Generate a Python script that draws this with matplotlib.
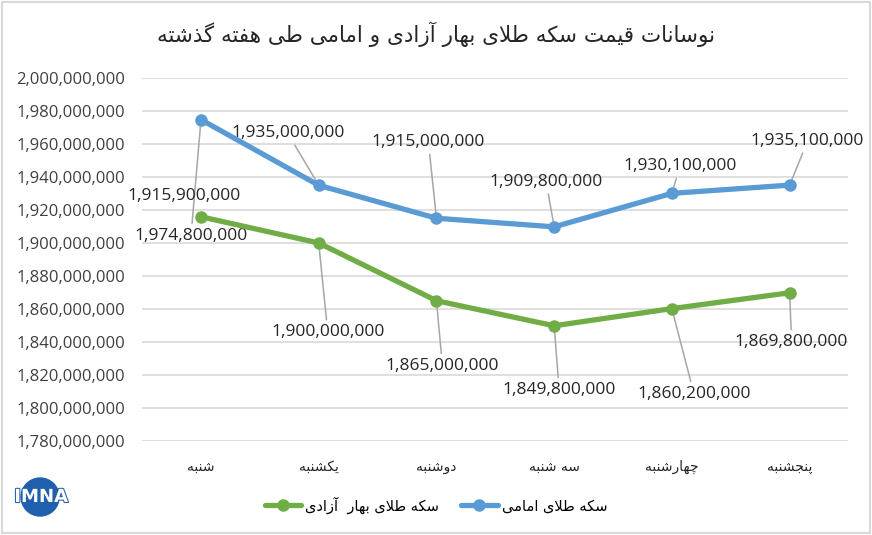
import numpy as np
import matplotlib
matplotlib.use("Agg")
import matplotlib.pyplot as plt
from matplotlib.patches import Rectangle, Ellipse
from matplotlib.ticker import FuncFormatter, MultipleLocator
import matplotlib.patheffects as pe

# --- data ---
days = ["شنبه", "یکشنبه", "دوشنبه", "سه شنبه", "چهارشنبه", "پنجشنبه"]
emami = [1974800000, 1935000000, 1915000000, 1909800000, 1930100000, 1935100000]
bahar = [1915900000, 1900000000, 1865000000, 1849800000, 1860200000, 1869800000]
title = "نوسانات قیمت سکه طلای بهار آزادی و امامی طی هفته گذشته"
label_emami = "سکه طلای امامی"
label_bahar = "سکه طلای بهار  آزادی"

# label offsets in pixels (dx, dy up) and whether a leader line is drawn
emami_off = [(-10, -116), (-31, 52), (-8, 76), (-8, 45), (8, 27), (18, 44)]
emami_lead = [True, True, True, True, True, True]
bahar_off = [(-17, 21), (9, -89), (6, -65), (5, -64), (22, -85), (2, -49)]
bahar_lead = [False, True, True, True, True, True]

# --- minimal arabic/persian shaping (matplotlib has no shaper) ---
FORMS = {
    "ا": ("\uFE8D", "\uFE8E", None, None),
    "آ": ("\uFE81", "\uFE82", None, None),
    "ب": ("\uFE8F", "\uFE90", "\uFE91", "\uFE92"),
    "پ": ("\uFB56", "\uFB57", "\uFB58", "\uFB59"),
    "ت": ("\uFE95", "\uFE96", "\uFE97", "\uFE98"),
    "ج": ("\uFE9D", "\uFE9E", "\uFE9F", "\uFEA0"),
    "چ": ("\uFB7A", "\uFB7B", "\uFB7C", "\uFB7D"),
    "د": ("\uFEA9", "\uFEAA", None, None),
    "ذ": ("\uFEAB", "\uFEAC", None, None),
    "ر": ("\uFEAD", "\uFEAE", None, None),
    "ز": ("\uFEAF", "\uFEB0", None, None),
    "س": ("\uFEB1", "\uFEB2", "\uFEB3", "\uFEB4"),
    "ش": ("\uFEB5", "\uFEB6", "\uFEB7", "\uFEB8"),
    "ط": ("\uFEC1", "\uFEC2", "\uFEC3", "\uFEC4"),
    "ف": ("\uFED1", "\uFED2", "\uFED3", "\uFED4"),
    "ق": ("\uFED5", "\uFED6", "\uFED7", "\uFED8"),
    "ک": ("\uFB8E", "\uFB8F", "\uFB90", "\uFB91"),
    "گ": ("\uFB92", "\uFB93", "\uFB94", "\uFB95"),
    "ل": ("\uFEDD", "\uFEDE", "\uFEDF", "\uFEE0"),
    "م": ("\uFEE1", "\uFEE2", "\uFEE3", "\uFEE4"),
    "ن": ("\uFEE5", "\uFEE6", "\uFEE7", "\uFEE8"),
    "و": ("\uFEED", "\uFEEE", None, None),
    "ه": ("\uFEE9", "\uFEEA", "\uFEEB", "\uFEEC"),
    "ی": ("\uFBFC", "\uFBFD", "\uFBFE", "\uFBFF"),
}
LAM_ALEF = {"ا": ("\uFEFB", "\uFEFC"), "آ": ("\uFEF5", "\uFEF6")}


def fa(text):
    out = []
    i = 0
    n = len(text)
    while i < n:
        c = text[i]
        if c not in FORMS:
            out.append(c)
            i += 1
            continue
        prev = text[i - 1] if i > 0 else ""
        prev_joins = prev in FORMS and FORMS[prev][2] is not None
        nxt = text[i + 1] if i + 1 < n else ""
        if c == "ل" and nxt in LAM_ALEF:
            out.append(LAM_ALEF[nxt][1 if prev_joins else 0])
            i += 2
            continue
        next_joins = FORMS[c][2] is not None and nxt in FORMS
        if prev_joins and next_joins:
            out.append(FORMS[c][3])
        elif prev_joins:
            out.append(FORMS[c][1])
        elif next_joins:
            out.append(FORMS[c][2])
        else:
            out.append(FORMS[c][0])
        i += 1
    return "".join(out)[::-1]


BLUE = "#5B9BD5"
GREEN = "#70AD47"
FA_FONT = ["DejaVu Sans"]
NUM_FONT = ["Open Sans", "DejaVu Sans"]

fig = plt.figure(figsize=(8.72, 5.35), dpi=100)
ax = fig.add_axes([0.163, 0.176, 0.81, 0.678])

x = np.arange(len(days))
l_em, = ax.plot(x, emami, color=BLUE, lw=3.8, marker="o", ms=8,
                solid_capstyle="round", zorder=3)
l_ba, = ax.plot(x, bahar, color=GREEN, lw=3.8, marker="o", ms=8,
                solid_capstyle="round", zorder=3)


def add_labels(vals, offs, leads):
    for xi, v, (dx, dy), lead in zip(x, vals, offs, leads):
        ap = None
        if lead:
            ap = dict(arrowstyle="-", color="#A6A6A6", lw=1.1,
                      shrinkA=1, shrinkB=0)
        ax.annotate(f"{v:,.0f}", (xi, v), xytext=(dx, dy),
                    textcoords="offset pixels", ha="center", va="center",
                    fontsize=12.5, family=NUM_FONT, color="#262626",
                    arrowprops=ap, zorder=2)


add_labels(emami, emami_off, emami_lead)
add_labels(bahar, bahar_off, bahar_lead)

ax.set_xlim(-0.5, len(days) - 0.5)
ax.set_ylim(1780000000, 2000000000)
ax.yaxis.set_major_locator(MultipleLocator(20000000))
ax.yaxis.set_major_formatter(FuncFormatter(lambda v, p: f"{v:,.0f}"))
ax.yaxis.grid(True, color="#D9D9D9", lw=1.2)
ax.set_axisbelow(True)
for s in ax.spines.values():
    s.set_visible(False)
ax.tick_params(length=0)
ax.tick_params(axis="y", pad=12, labelsize=12, labelcolor="#404040")
for t in ax.get_yticklabels():
    t.set_family(NUM_FONT)
ax.set_xticks(x)
ax.set_xticklabels([fa(d) for d in days], family=FA_FONT, fontsize=10,
                   color="#262626")
ax.tick_params(axis="x", pad=14)

fig.text(0.5, 0.935, fa(title), ha="center", va="center", fontsize=15.5,
         family=FA_FONT, color="#262626")

leg = fig.legend([l_ba, l_em], [fa(label_bahar), fa(label_emami)], ncol=2,
                 loc="center", bbox_to_anchor=(0.5, 0.056), frameon=False,
                 prop=dict(family=FA_FONT, size=10.5), handlelength=2.5,
                 columnspacing=1.5, handletextpad=0.3)

# outer chart border
fig.patches.append(Rectangle((0.002, 0.003), 0.996, 0.994, transform=fig.transFigure,
                             fill=False, edgecolor="#D9D9D9", lw=1.5))

# IMNA logo (approximation)
fig.patches.append(Ellipse((0.046, 0.071), 38 / 872, 38 / 535,
                           transform=fig.transFigure, color="#1F5FAE"))
fig.text(0.047, 0.071, "IMNA", ha="center", va="center", fontsize=13,
         weight="bold", color="white", family="DejaVu Sans Condensed",
         path_effects=[pe.withStroke(linewidth=1.5, foreground="#1F5FAE")])

fig.savefig("out.png", dpi=100)
